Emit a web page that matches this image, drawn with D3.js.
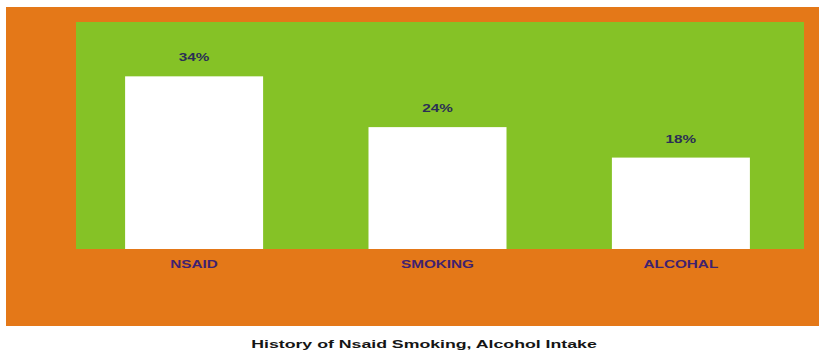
<!DOCTYPE html>
<html>
<head>
<meta charset="utf-8">
<script src="https://cdn.jsdelivr.net/npm/d3@7/dist/d3.min.js"></script>
<style>
  html, body { margin: 0; padding: 0; background: #ffffff; }
  svg { display: block; }
  text { font-family: "Liberation Sans", Arial, sans-serif; font-weight: bold; }
</style>
</head>
<body>
<script>
// Share of patients with each history item
const categories = ["NSAID", "SMOKING", "ALCOHAL"];
const percentValues = [34, 24, 18];
const valueLabels = ["34%", "24%", "18%"];
const chartTitle = "History of Nsaid Smoking, Alcohol Intake";

const W = 819, H = 354;
const stretch = 1.53; // wide lettering
const shift = -2.5;   // bars sit slightly left of band centres

const svg = d3.select("body").append("svg")
  .attr("width", W).attr("height", H);

// orange backdrop panel
svg.append("rect")
  .attr("x", 6).attr("y", 7)
  .attr("width", W - 6).attr("height", 319)
  .attr("fill", "#E47818");

// green plot area
const plot = { left: 76, right: 804, top: 22, bottom: 249 };
svg.append("rect")
  .attr("x", plot.left).attr("y", plot.top)
  .attr("width", plot.right - plot.left).attr("height", plot.bottom - plot.top)
  .attr("fill", "#85C226");

const x = d3.scaleBand()
  .domain(categories)
  .range([plot.left, plot.right])
  .paddingInner(0.433)
  .paddingOuter(0.212);

const y = d3.scaleLinear()
  .domain([0, 44.7])
  .range([plot.bottom, plot.top]);

const data = categories.map((c, i) => ({ cat: c, v: percentValues[i], label: valueLabels[i] }));

// bars
svg.selectAll("rect.bar").data(data).enter().append("rect")
  .attr("class", "bar")
  .attr("x", d => x(d.cat) + shift)
  .attr("y", d => y(d.v))
  .attr("width", x.bandwidth())
  .attr("height", d => plot.bottom - y(d.v))
  .attr("fill", "#ffffff");

// value labels above bars
svg.selectAll("text.val").data(data).enter().append("text")
  .attr("class", "val")
  .attr("transform", d => `translate(${x(d.cat) + shift + x.bandwidth() / 2},${y(d.v) - 15}) scale(${stretch},1)`)
  .attr("text-anchor", "middle")
  .attr("font-size", 10)
  .attr("fill", "#2B2F55")
  .text(d => d.label);

// category axis labels
const xAxis = svg.append("g")
  .attr("transform", `translate(${shift},${plot.bottom})`)
  .call(d3.axisBottom(x).tickSize(0).tickPadding(0));
xAxis.select(".domain").remove();
xAxis.selectAll(".tick text")
  .attr("y", 0)
  .attr("dy", 0)
  .attr("transform", `translate(0,19) scale(${stretch},1)`)
  .attr("font-size", 10)
  .attr("font-family", "'Liberation Sans', Arial, sans-serif")
  .attr("font-weight", "bold")
  .attr("fill", "#3F2270");

// title
svg.append("text")
  .attr("transform", `translate(424,348) scale(1.54,1)`)
  .attr("text-anchor", "middle")
  .attr("font-size", 11.5)
  .attr("fill", "#151515")
  .text(chartTitle);
</script>
</body>
</html>
